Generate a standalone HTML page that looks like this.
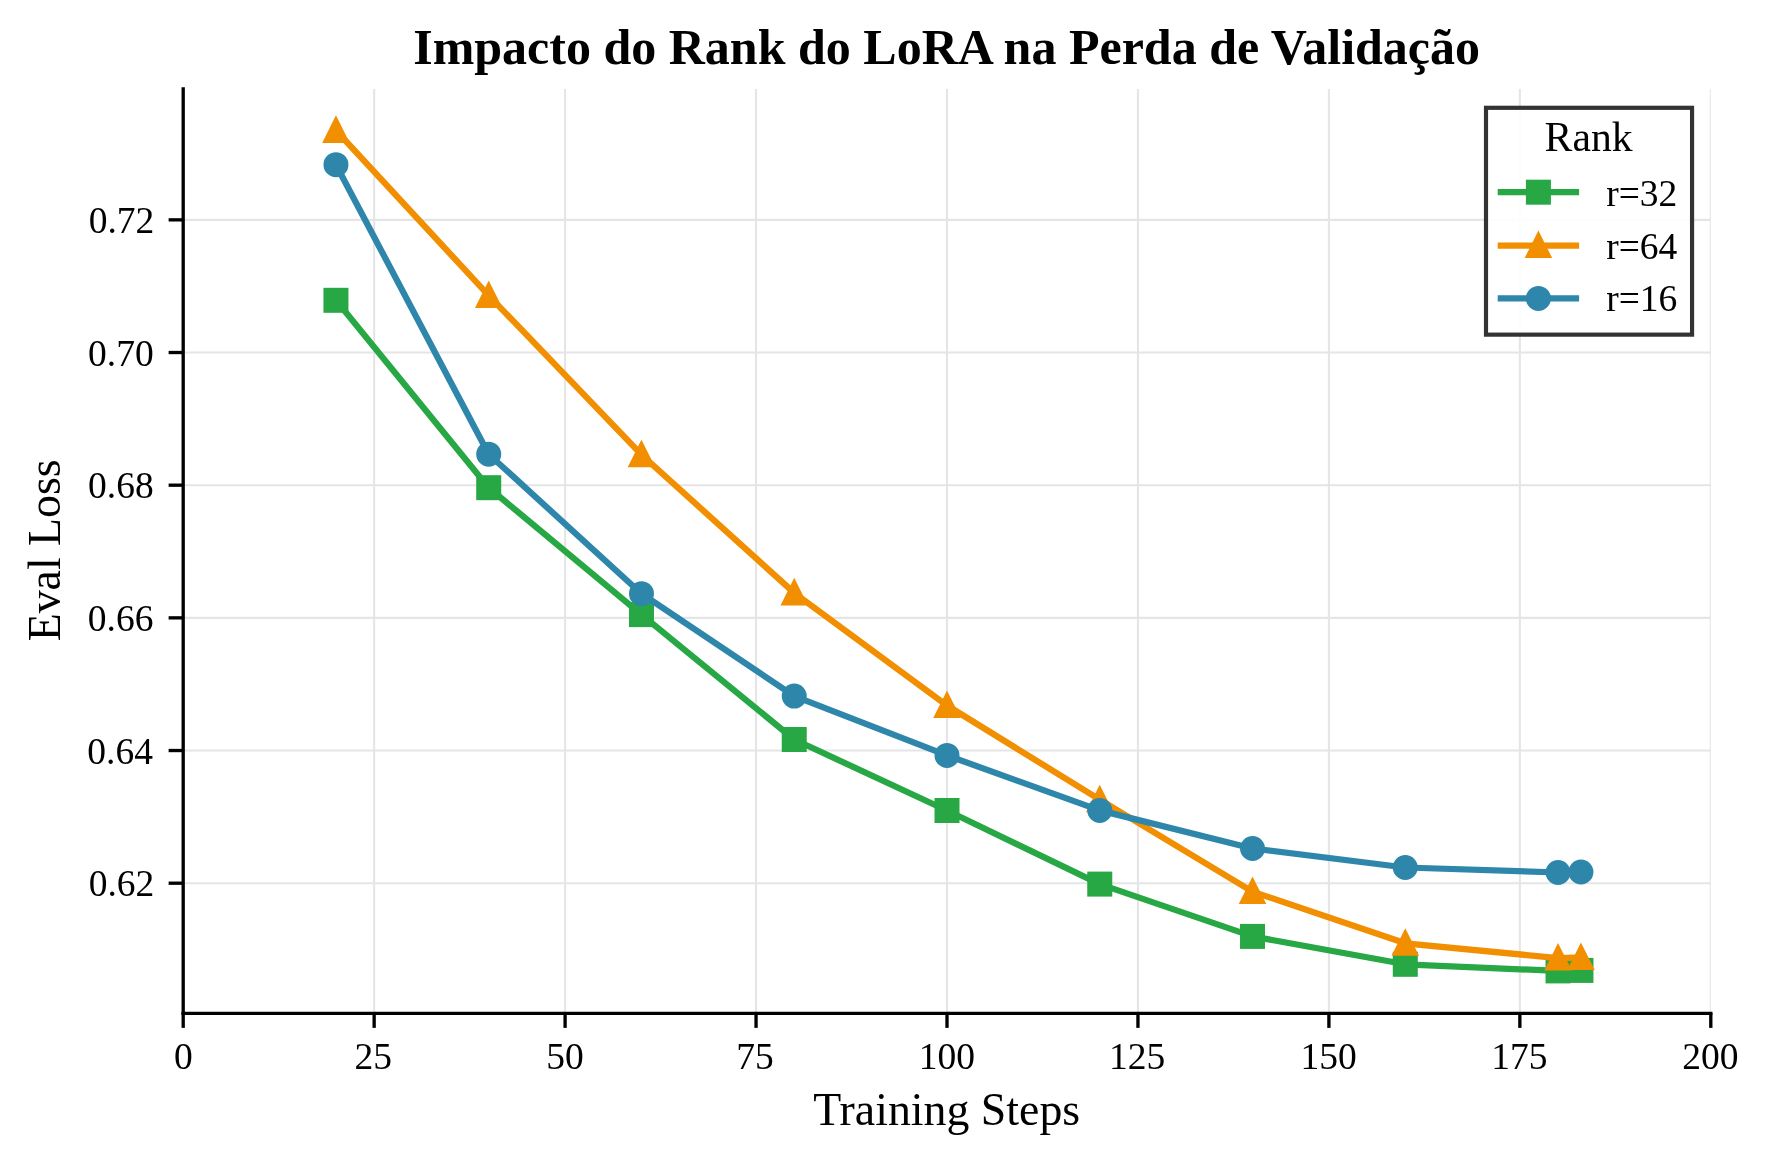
<!DOCTYPE html>
<html><head><meta charset="utf-8"><style>
html,body{margin:0;padding:0;background:#fff;}
svg{display:block;font-family:"Liberation Serif",serif;will-change:transform;}
</style></head><body>
<svg width="1769" height="1165" viewBox="0 0 1769 1165">
<rect width="1769" height="1165" fill="#fff"/>
<defs><clipPath id="ax"><rect x="183.2" y="89.0" width="1527.60" height="924.30"/></clipPath></defs>
<g stroke="#e5e5e5" stroke-width="2.08" clip-path="url(#ax)"><line x1="183.20" y1="89.0" x2="183.20" y2="1013.3"/><line x1="374.15" y1="89.0" x2="374.15" y2="1013.3"/><line x1="565.10" y1="89.0" x2="565.10" y2="1013.3"/><line x1="756.05" y1="89.0" x2="756.05" y2="1013.3"/><line x1="947.00" y1="89.0" x2="947.00" y2="1013.3"/><line x1="1137.95" y1="89.0" x2="1137.95" y2="1013.3"/><line x1="1328.90" y1="89.0" x2="1328.90" y2="1013.3"/><line x1="1519.85" y1="89.0" x2="1519.85" y2="1013.3"/><line x1="1710.80" y1="89.0" x2="1710.80" y2="1013.3"/><line x1="183.2" y1="883.20" x2="1710.8" y2="883.20"/><line x1="183.2" y1="750.53" x2="1710.8" y2="750.53"/><line x1="183.2" y1="617.86" x2="1710.8" y2="617.86"/><line x1="183.2" y1="485.19" x2="1710.8" y2="485.19"/><line x1="183.2" y1="352.52" x2="1710.8" y2="352.52"/><line x1="183.2" y1="219.85" x2="1710.8" y2="219.85"/></g>
<polyline points="335.96,300.30 488.72,487.70 641.48,614.60 794.24,739.50 947.00,810.50 1099.76,884.10 1252.52,936.40 1405.28,964.30 1558.04,970.90 1580.95,970.40" fill="none" stroke="#28A745" stroke-width="6.25" stroke-linejoin="round" stroke-linecap="square"/><rect x="325.54" y="289.88" width="20.83" height="20.83" fill="#28A745" stroke="#28A745" stroke-width="4.17" stroke-linejoin="miter"/><rect x="478.30" y="477.28" width="20.83" height="20.83" fill="#28A745" stroke="#28A745" stroke-width="4.17" stroke-linejoin="miter"/><rect x="631.07" y="604.19" width="20.83" height="20.83" fill="#28A745" stroke="#28A745" stroke-width="4.17" stroke-linejoin="miter"/><rect x="783.83" y="729.09" width="20.83" height="20.83" fill="#28A745" stroke="#28A745" stroke-width="4.17" stroke-linejoin="miter"/><rect x="936.59" y="800.09" width="20.83" height="20.83" fill="#28A745" stroke="#28A745" stroke-width="4.17" stroke-linejoin="miter"/><rect x="1089.35" y="873.69" width="20.83" height="20.83" fill="#28A745" stroke="#28A745" stroke-width="4.17" stroke-linejoin="miter"/><rect x="1242.11" y="925.99" width="20.83" height="20.83" fill="#28A745" stroke="#28A745" stroke-width="4.17" stroke-linejoin="miter"/><rect x="1394.87" y="953.88" width="20.83" height="20.83" fill="#28A745" stroke="#28A745" stroke-width="4.17" stroke-linejoin="miter"/><rect x="1547.62" y="960.49" width="20.83" height="20.83" fill="#28A745" stroke="#28A745" stroke-width="4.17" stroke-linejoin="miter"/><rect x="1570.54" y="959.99" width="20.83" height="20.83" fill="#28A745" stroke="#28A745" stroke-width="4.17" stroke-linejoin="miter"/>
<polyline points="335.96,130.40 488.72,295.50 641.48,454.70 794.24,592.90 947.00,705.50 1099.76,799.70 1252.52,891.60 1405.28,943.30 1558.04,958.10 1580.95,957.50" fill="none" stroke="#F18F01" stroke-width="6.25" stroke-linejoin="round" stroke-linecap="square"/><path d="M335.96 119.99L325.54 140.81L346.38 140.81Z" fill="#F18F01" stroke="#F18F01" stroke-width="4.17" stroke-linejoin="miter" stroke-miterlimit="10"/><path d="M488.72 285.08L478.30 305.92L499.13 305.92Z" fill="#F18F01" stroke="#F18F01" stroke-width="4.17" stroke-linejoin="miter" stroke-miterlimit="10"/><path d="M641.48 444.29L631.07 465.12L651.89 465.12Z" fill="#F18F01" stroke="#F18F01" stroke-width="4.17" stroke-linejoin="miter" stroke-miterlimit="10"/><path d="M794.24 582.49L783.83 603.31L804.65 603.31Z" fill="#F18F01" stroke="#F18F01" stroke-width="4.17" stroke-linejoin="miter" stroke-miterlimit="10"/><path d="M947.00 695.09L936.59 715.91L957.41 715.91Z" fill="#F18F01" stroke="#F18F01" stroke-width="4.17" stroke-linejoin="miter" stroke-miterlimit="10"/><path d="M1099.76 789.29L1089.35 810.12L1110.17 810.12Z" fill="#F18F01" stroke="#F18F01" stroke-width="4.17" stroke-linejoin="miter" stroke-miterlimit="10"/><path d="M1252.52 881.19L1242.11 902.01L1262.93 902.01Z" fill="#F18F01" stroke="#F18F01" stroke-width="4.17" stroke-linejoin="miter" stroke-miterlimit="10"/><path d="M1405.28 932.89L1394.87 953.72L1415.69 953.72Z" fill="#F18F01" stroke="#F18F01" stroke-width="4.17" stroke-linejoin="miter" stroke-miterlimit="10"/><path d="M1558.04 947.69L1547.62 968.51L1568.45 968.51Z" fill="#F18F01" stroke="#F18F01" stroke-width="4.17" stroke-linejoin="miter" stroke-miterlimit="10"/><path d="M1580.95 947.09L1570.54 967.91L1591.37 967.91Z" fill="#F18F01" stroke="#F18F01" stroke-width="4.17" stroke-linejoin="miter" stroke-miterlimit="10"/>
<polyline points="335.96,164.70 488.72,454.20 641.48,593.70 794.24,696.10 947.00,755.40 1099.76,810.40 1252.52,848.50 1405.28,867.50 1558.04,872.50 1580.95,872.00" fill="none" stroke="#2E86AB" stroke-width="6.25" stroke-linejoin="round" stroke-linecap="square"/><circle cx="335.96" cy="164.70" r="10.41" fill="#2E86AB" stroke="#2E86AB" stroke-width="4.17"/><circle cx="488.72" cy="454.20" r="10.41" fill="#2E86AB" stroke="#2E86AB" stroke-width="4.17"/><circle cx="641.48" cy="593.70" r="10.41" fill="#2E86AB" stroke="#2E86AB" stroke-width="4.17"/><circle cx="794.24" cy="696.10" r="10.41" fill="#2E86AB" stroke="#2E86AB" stroke-width="4.17"/><circle cx="947.00" cy="755.40" r="10.41" fill="#2E86AB" stroke="#2E86AB" stroke-width="4.17"/><circle cx="1099.76" cy="810.40" r="10.41" fill="#2E86AB" stroke="#2E86AB" stroke-width="4.17"/><circle cx="1252.52" cy="848.50" r="10.41" fill="#2E86AB" stroke="#2E86AB" stroke-width="4.17"/><circle cx="1405.28" cy="867.50" r="10.41" fill="#2E86AB" stroke="#2E86AB" stroke-width="4.17"/><circle cx="1558.04" cy="872.50" r="10.41" fill="#2E86AB" stroke="#2E86AB" stroke-width="4.17"/><circle cx="1580.95" cy="872.00" r="10.41" fill="#2E86AB" stroke="#2E86AB" stroke-width="4.17"/>
<g stroke="#000" stroke-width="3.33" stroke-linecap="square"><line x1="183.2" y1="89.0" x2="183.2" y2="1013.3"/><line x1="183.2" y1="1013.3" x2="1710.8" y2="1013.3"/></g>
<g stroke="#000" stroke-width="3.33"><line x1="183.20" y1="1013.3" x2="183.20" y2="1027.88"/><line x1="374.15" y1="1013.3" x2="374.15" y2="1027.88"/><line x1="565.10" y1="1013.3" x2="565.10" y2="1027.88"/><line x1="756.05" y1="1013.3" x2="756.05" y2="1027.88"/><line x1="947.00" y1="1013.3" x2="947.00" y2="1027.88"/><line x1="1137.95" y1="1013.3" x2="1137.95" y2="1027.88"/><line x1="1328.90" y1="1013.3" x2="1328.90" y2="1027.88"/><line x1="1519.85" y1="1013.3" x2="1519.85" y2="1027.88"/><line x1="1710.80" y1="1013.3" x2="1710.80" y2="1027.88"/><line x1="168.62" y1="883.20" x2="183.2" y2="883.20"/><line x1="168.62" y1="750.53" x2="183.2" y2="750.53"/><line x1="168.62" y1="617.86" x2="183.2" y2="617.86"/><line x1="168.62" y1="485.19" x2="183.2" y2="485.19"/><line x1="168.62" y1="352.52" x2="183.2" y2="352.52"/><line x1="168.62" y1="219.85" x2="183.2" y2="219.85"/></g>
<g><text x="174.12" y="1068.60" font-size="37.5" fill="#000">0</text><text x="354.46" y="1068.60" font-size="37.5" fill="#000">25</text><text x="546.17" y="1068.60" font-size="37.5" fill="#000">50</text><text x="736.15" y="1068.60" font-size="37.5" fill="#000">75</text><text x="918.84" y="1068.60" font-size="37.5" fill="#000">100</text><text x="1109.06" y="1068.60" font-size="37.5" fill="#000">125</text><text x="1300.44" y="1068.60" font-size="37.5" fill="#000">150</text><text x="1491.16" y="1068.60" font-size="37.5" fill="#000">175</text><text x="1682.27" y="1068.60" font-size="37.5" fill="#000">200</text><text x="88.74" y="896.30" font-size="37.5" fill="#000">0.62</text><text x="87.26" y="763.63" font-size="37.5" fill="#000">0.64</text><text x="87.79" y="630.96" font-size="37.5" fill="#000">0.66</text><text x="88.10" y="498.29" font-size="37.5" fill="#000">0.68</text><text x="88.10" y="365.62" font-size="37.5" fill="#000">0.70</text><text x="88.74" y="232.95" font-size="37.5" fill="#000">0.72</text></g>
<text x="813.23" y="1124.60" font-size="45.83" fill="#000">Training Steps</text>
<text transform="translate(60.30 641.34) rotate(-90)" x="0" y="0" font-size="45.83" fill="#000">Eval Loss</text>
<text x="413.20" y="64.00" font-size="50" font-weight="bold" fill="#000">Impacto do Rank do LoRA na Perda de Validação</text>
<g><rect x="1486.0" y="107.8" width="206.05" height="226.85" fill="#fff" fill-opacity="0.9" stroke="#333" stroke-width="4.17"/><text x="1544.62" y="151.40" font-size="41.67" fill="#000">Rank</text><line x1="1497.7" y1="192.2" x2="1579.1" y2="192.2" stroke="#28A745" stroke-width="6.25"/><rect x="1527.99" y="181.78" width="20.83" height="20.83" fill="#28A745" stroke="#28A745" stroke-width="4.17" stroke-linejoin="miter"/><text x="1606.15" y="205.70" font-size="37.5" fill="#000">r=32</text><line x1="1497.7" y1="245.6" x2="1579.1" y2="245.6" stroke="#F18F01" stroke-width="6.25"/><path d="M1538.40 235.19L1527.99 256.01L1548.82 256.01Z" fill="#F18F01" stroke="#F18F01" stroke-width="4.17" stroke-linejoin="miter" stroke-miterlimit="10"/><text x="1606.15" y="258.70" font-size="37.5" fill="#000">r=64</text><line x1="1497.7" y1="298.4" x2="1579.1" y2="298.4" stroke="#2E86AB" stroke-width="6.25"/><circle cx="1538.40" cy="298.40" r="10.41" fill="#2E86AB" stroke="#2E86AB" stroke-width="4.17"/><text x="1606.15" y="311.30" font-size="37.5" fill="#000">r=16</text></g>
</svg>
</body></html>
